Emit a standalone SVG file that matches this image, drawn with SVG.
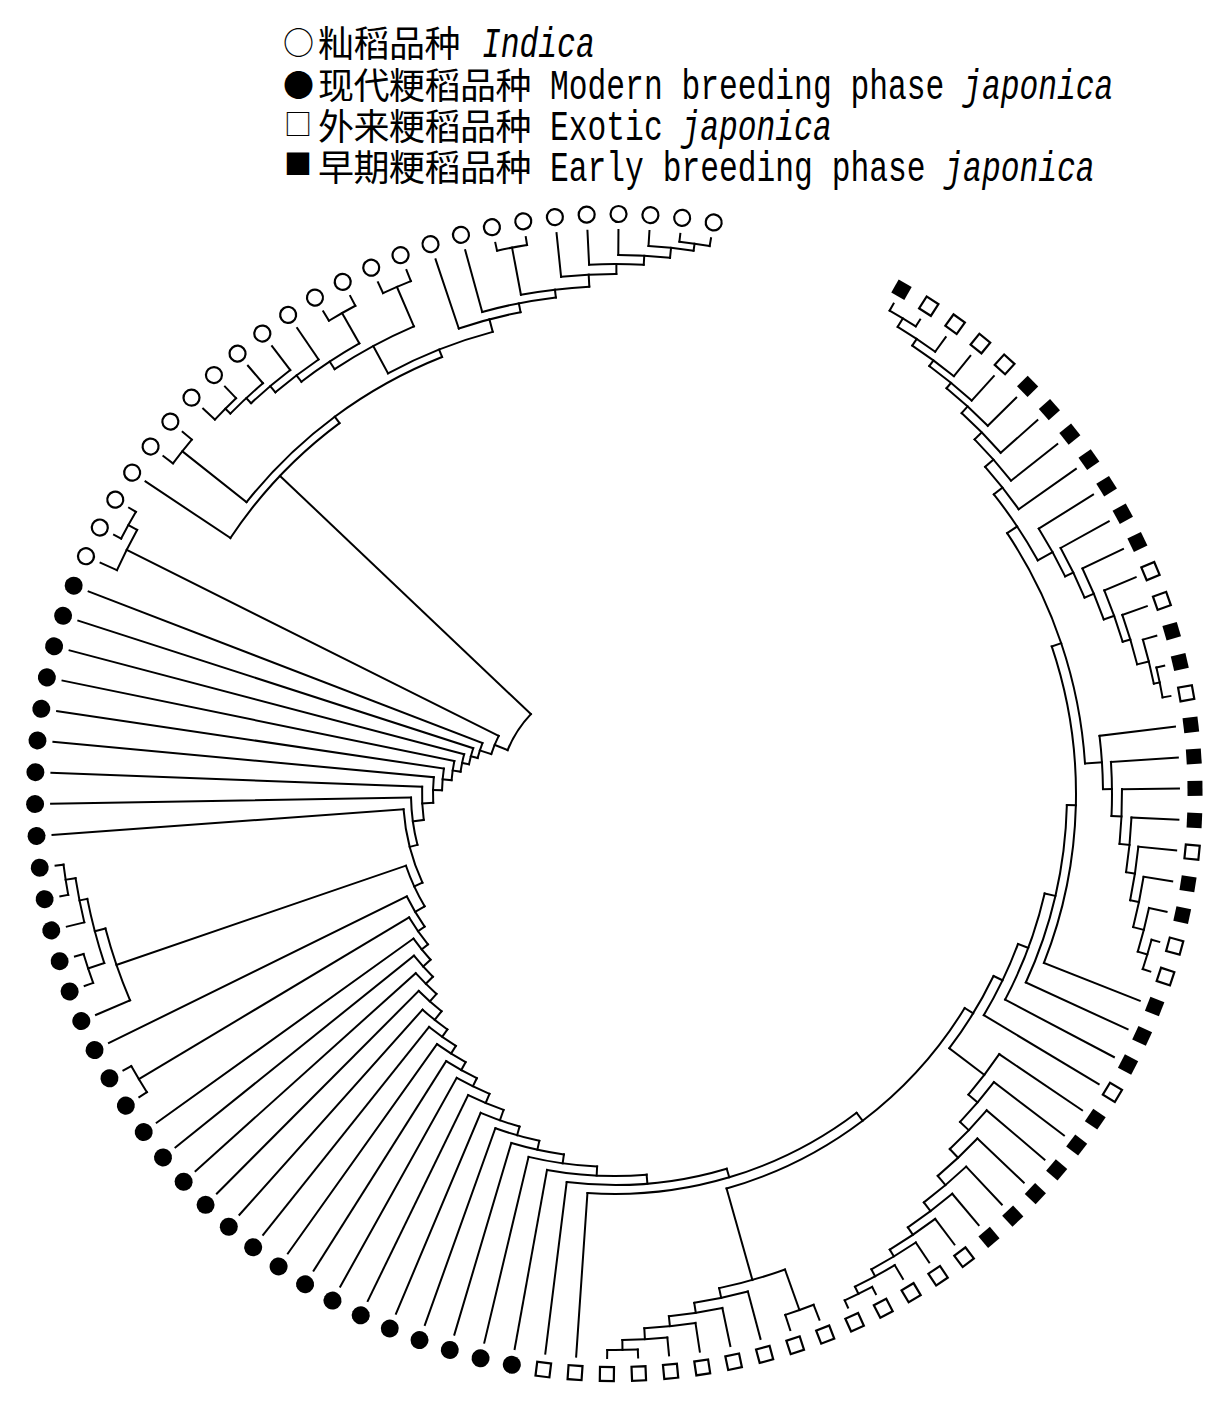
<svg xmlns="http://www.w3.org/2000/svg" width="1228" height="1414" viewBox="0 0 1228 1414">
<style>
#connectors circle,#connectors path{fill:none;stroke:#000;stroke-width:2;stroke-linecap:square}
#legend text{fill:#000}
.mk{font-family:"Noto Sans CJK SC","Noto Sans CJK JP",sans-serif}
.cjk{font-family:"Noto Sans CJK SC","Noto Sans CJK JP",sans-serif;font-size:36px;letter-spacing:-0.5px}
.lat{font-family:"Liberation Mono","DejaVu Sans Mono",monospace;font-size:43px}
.it{font-style:italic}
</style>
<defs>
<circle id="mi" r="8" fill="#fff" stroke="#000" stroke-width="2.2"/>
<circle id="mm" r="9" fill="#000"/>
<rect id="mo" x="-7" y="-7" width="14" height="14" fill="#fff" stroke="#000" stroke-width="2.2"/>
<rect id="mf" x="-7.5" y="-7.5" width="15" height="15" fill="#000"/>
</defs>
<rect width="1228" height="1414" fill="#fff"/>
<g id="legend">
<text y="57"><tspan class="mk" x="283" dy="-3.5" font-size="31">○</tspan><tspan class="cjk" x="318" dy="3.5">籼稻品种</tspan></text>
<text class="lat it" transform="translate(482 57) scale(0.728 1)">Indica</text>
<text y="99"><tspan class="mk" x="283" dy="-3" font-size="31">●</tspan><tspan class="cjk" x="318" dy="3">现代粳稻品种</tspan></text>
<text class="lat" transform="translate(550 99) scale(0.728 1)">Modern breeding phase <tspan class="it">japonica</tspan></text>
<text y="140"><tspan class="mk" x="284" dy="-5" font-size="28">□</tspan><tspan class="cjk" x="318" dy="5">外来粳稻品种</tspan></text>
<text class="lat" transform="translate(550 140) scale(0.728 1)">Exotic <tspan class="it">japonica</tspan></text>
<text y="181"><tspan class="mk" x="284" dy="-6" font-size="28">■</tspan><tspan class="cjk" x="318" dy="6">早期粳稻品种</tspan></text>
<text class="lat" transform="translate(550 181) scale(0.728 1)">Early breeding phase <tspan class="it">japonica</tspan></text>
</g>
<g id="connectors" transform="translate(615 794)">
<circle r="556" pathLength="360" stroke-dasharray="3.15 999" transform="rotate(299.6)"/>
<circle r="546" pathLength="360" stroke-dasharray="4.73 999" transform="rotate(301.18)"/>
<circle r="538" pathLength="360" stroke-dasharray="5.51 999" transform="rotate(303.54)"/>
<circle r="531" pathLength="360" stroke-dasharray="5.91 999" transform="rotate(306.29)"/>
<circle r="524" pathLength="360" stroke-dasharray="6.1 999" transform="rotate(309.25)"/>
<circle r="515" pathLength="360" stroke-dasharray="6.2 999" transform="rotate(312.3)"/>
<circle r="505" pathLength="360" stroke-dasharray="6.25 999" transform="rotate(315.4)"/>
<circle r="494" pathLength="360" stroke-dasharray="6.27 999" transform="rotate(318.53)"/>
<circle r="556" pathLength="360" stroke-dasharray="3.15 999" transform="rotate(346.85)"/>
<circle r="550" pathLength="360" stroke-dasharray="4.73 999" transform="rotate(343.7)"/>
<circle r="538" pathLength="360" stroke-dasharray="5.51 999" transform="rotate(340.55)"/>
<circle r="530" pathLength="360" stroke-dasharray="5.91 999" transform="rotate(337.4)"/>
<circle r="519" pathLength="360" stroke-dasharray="6.1 999" transform="rotate(334.25)"/>
<circle r="509" pathLength="360" stroke-dasharray="6.2 999" transform="rotate(331.1)"/>
<circle r="500" pathLength="360" stroke-dasharray="6.25 999" transform="rotate(327.95)"/>
<circle r="483" pathLength="360" stroke-dasharray="9.41 999" transform="rotate(321.66)"/>
<circle r="556" pathLength="360" stroke-dasharray="3.15 999" transform="rotate(375.2)"/>
<circle r="546" pathLength="360" stroke-dasharray="4.73 999" transform="rotate(372.05)"/>
<circle r="535" pathLength="360" stroke-dasharray="5.51 999" transform="rotate(368.9)"/>
<circle r="526" pathLength="360" stroke-dasharray="5.91 999" transform="rotate(365.75)"/>
<circle r="517" pathLength="360" stroke-dasharray="6.1 999" transform="rotate(362.6)"/>
<circle r="507" pathLength="360" stroke-dasharray="6.2 999" transform="rotate(359.45)"/>
<circle r="497" pathLength="360" stroke-dasharray="6.25 999" transform="rotate(356.3)"/>
<circle r="488" pathLength="360" stroke-dasharray="6.27 999" transform="rotate(353.15)"/>
<circle r="471" pathLength="360" stroke-dasharray="29.92 999" transform="rotate(326.37)"/>
<circle r="461" pathLength="360" stroke-dasharray="40.17 999" transform="rotate(341.33)"/>
<circle r="452" pathLength="360" stroke-dasharray="23.24 999" transform="rotate(361.41)"/>
<circle r="441" pathLength="360" stroke-dasharray="14.77 999" transform="rotate(373.03)"/>
<circle r="430" pathLength="360" stroke-dasharray="10.53 999" transform="rotate(380.42)"/>
<circle r="556" pathLength="360" stroke-dasharray="3.15 999" transform="rotate(422.45)"/>
<circle r="548" pathLength="360" stroke-dasharray="4.73 999" transform="rotate(419.3)"/>
<circle r="540" pathLength="360" stroke-dasharray="5.51 999" transform="rotate(416.15)"/>
<circle r="532" pathLength="360" stroke-dasharray="5.91 999" transform="rotate(413)"/>
<circle r="523" pathLength="360" stroke-dasharray="6.1 999" transform="rotate(409.85)"/>
<circle r="512" pathLength="360" stroke-dasharray="6.2 999" transform="rotate(406.7)"/>
<circle r="500" pathLength="360" stroke-dasharray="6.25 999" transform="rotate(403.55)"/>
<circle r="488" pathLength="360" stroke-dasharray="6.28 999" transform="rotate(400.4)"/>
<circle r="476" pathLength="360" stroke-dasharray="6.29 999" transform="rotate(397.25)"/>
<circle r="464" pathLength="360" stroke-dasharray="6.29 999" transform="rotate(394.1)"/>
<circle r="420" pathLength="360" stroke-dasharray="11.57 999" transform="rotate(385.68)"/>
<circle r="556" pathLength="360" stroke-dasharray="3.15 999" transform="rotate(447.65)"/>
<circle r="546" pathLength="360" stroke-dasharray="4.73 999" transform="rotate(444.5)"/>
<circle r="535" pathLength="360" stroke-dasharray="5.51 999" transform="rotate(441.35)"/>
<circle r="525" pathLength="360" stroke-dasharray="5.91 999" transform="rotate(438.2)"/>
<circle r="515" pathLength="360" stroke-dasharray="6.1 999" transform="rotate(435.05)"/>
<circle r="548" pathLength="360" stroke-dasharray="3.15 999" transform="rotate(428.75)"/>
<circle r="505" pathLength="360" stroke-dasharray="7.77 999" transform="rotate(430.33)"/>
<circle r="410" pathLength="360" stroke-dasharray="42.74 999" transform="rotate(391.47)"/>
<circle r="400" pathLength="360" stroke-dasharray="41.11 999" transform="rotate(412.84)"/>
<circle r="391" pathLength="360" stroke-dasharray="23.7 999" transform="rotate(433.4)"/>
<circle r="382" pathLength="360" stroke-dasharray="15 999" transform="rotate(445.25)"/>
<circle r="373" pathLength="360" stroke-dasharray="10.65 999" transform="rotate(452.75)"/>
<circle r="364" pathLength="360" stroke-dasharray="8.48 999" transform="rotate(458.07)"/>
<circle r="355" pathLength="360" stroke-dasharray="7.39 999" transform="rotate(462.31)"/>
<circle r="346" pathLength="360" stroke-dasharray="6.84 999" transform="rotate(466.01)"/>
<circle r="335" pathLength="360" stroke-dasharray="6.57 999" transform="rotate(469.43)"/>
<circle r="325" pathLength="360" stroke-dasharray="6.44 999" transform="rotate(472.71)"/>
<circle r="316" pathLength="360" stroke-dasharray="6.37 999" transform="rotate(475.93)"/>
<circle r="307" pathLength="360" stroke-dasharray="6.33 999" transform="rotate(479.12)"/>
<circle r="298" pathLength="360" stroke-dasharray="6.32 999" transform="rotate(482.28)"/>
<circle r="289" pathLength="360" stroke-dasharray="6.31 999" transform="rotate(485.44)"/>
<circle r="278" pathLength="360" stroke-dasharray="6.3 999" transform="rotate(488.6)"/>
<circle r="268" pathLength="360" stroke-dasharray="6.3 999" transform="rotate(491.75)"/>
<circle r="258" pathLength="360" stroke-dasharray="6.3 999" transform="rotate(494.9)"/>
<circle r="248" pathLength="360" stroke-dasharray="6.3 999" transform="rotate(498.05)"/>
<circle r="555" pathLength="360" stroke-dasharray="3.15 999" transform="rotate(507.5)"/>
<circle r="240" pathLength="360" stroke-dasharray="7.88 999" transform="rotate(501.2)"/>
<circle r="232" pathLength="360" stroke-dasharray="8.66 999" transform="rotate(505.14)"/>
<circle r="556" pathLength="360" stroke-dasharray="3.15 999" transform="rotate(529.55)"/>
<circle r="546" pathLength="360" stroke-dasharray="4.73 999" transform="rotate(526.4)"/>
<circle r="555" pathLength="360" stroke-dasharray="3.15 999" transform="rotate(520.1)"/>
<circle r="538" pathLength="360" stroke-dasharray="7.08 999" transform="rotate(521.68)"/>
<circle r="527" pathLength="360" stroke-dasharray="8.27 999" transform="rotate(516.95)"/>
<circle r="221" pathLength="360" stroke-dasharray="11.61 999" transform="rotate(509.47)"/>
<circle r="212" pathLength="360" stroke-dasharray="20.57 999" transform="rotate(515.28)"/>
<circle r="204" pathLength="360" stroke-dasharray="13.44 999" transform="rotate(525.56)"/>
<circle r="193" pathLength="360" stroke-dasharray="9.87 999" transform="rotate(532.28)"/>
<circle r="182" pathLength="360" stroke-dasharray="8.08 999" transform="rotate(537.22)"/>
<circle r="173" pathLength="360" stroke-dasharray="7.19 999" transform="rotate(541.26)"/>
<circle r="164" pathLength="360" stroke-dasharray="6.75 999" transform="rotate(544.85)"/>
<circle r="156" pathLength="360" stroke-dasharray="6.52 999" transform="rotate(548.23)"/>
<circle r="149" pathLength="360" stroke-dasharray="6.41 999" transform="rotate(551.49)"/>
<circle r="142" pathLength="360" stroke-dasharray="6.36 999" transform="rotate(554.69)"/>
<circle r="556" pathLength="360" stroke-dasharray="3.15 999" transform="rotate(567.35)"/>
<circle r="546" pathLength="360" stroke-dasharray="4.73 999" transform="rotate(564.2)"/>
<circle r="130" pathLength="360" stroke-dasharray="8.69 999" transform="rotate(557.87)"/>
<circle r="552" pathLength="360" stroke-dasharray="3.15 999" transform="rotate(576.8)"/>
<circle r="548" pathLength="360" stroke-dasharray="3.15 999" transform="rotate(583.1)"/>
<circle r="541" pathLength="360" stroke-dasharray="4.72 999" transform="rotate(584.68)"/>
<circle r="534" pathLength="360" stroke-dasharray="5.51 999" transform="rotate(587.04)"/>
<circle r="526" pathLength="360" stroke-dasharray="5.91 999" transform="rotate(589.79)"/>
<circle r="553" pathLength="360" stroke-dasharray="3.15 999" transform="rotate(598.85)"/>
<circle r="518" pathLength="360" stroke-dasharray="7.69 999" transform="rotate(592.74)"/>
<circle r="552" pathLength="360" stroke-dasharray="3.15 999" transform="rotate(605.15)"/>
<circle r="509" pathLength="360" stroke-dasharray="10.15 999" transform="rotate(596.58)"/>
<circle r="556" pathLength="360" stroke-dasharray="3.15 999" transform="rotate(636.65)"/>
<circle r="549" pathLength="360" stroke-dasharray="4.73 999" transform="rotate(633.5)"/>
<circle r="539" pathLength="360" stroke-dasharray="5.51 999" transform="rotate(630.35)"/>
<circle r="530" pathLength="360" stroke-dasharray="5.91 999" transform="rotate(627.2)"/>
<circle r="520" pathLength="360" stroke-dasharray="6.1 999" transform="rotate(624.05)"/>
<circle r="556" pathLength="360" stroke-dasharray="3.15 999" transform="rotate(617.75)"/>
<circle r="508" pathLength="360" stroke-dasharray="7.77 999" transform="rotate(619.33)"/>
<circle r="500" pathLength="360" stroke-dasharray="8.61 999" transform="rotate(614.6)"/>
<circle r="491" pathLength="360" stroke-dasharray="7.46 999" transform="rotate(611.45)"/>
<circle r="478" pathLength="360" stroke-dasharray="13.53 999" transform="rotate(601.65)"/>
<circle r="470" pathLength="360" stroke-dasharray="30.03 999" transform="rotate(578.38)"/>
<circle r="462" pathLength="360" stroke-dasharray="19.75 999" transform="rotate(573.65)"/>
<circle r="116" pathLength="360" stroke-dasharray="21.3 999" transform="rotate(562.22)"/>
<path d="M556 0H564" transform="rotate(299.6)"/>
<path d="M556 0H564" transform="rotate(302.75)"/>
<path d="M546 0H564" transform="rotate(305.9)"/>
<path d="M538 0H564" transform="rotate(309.05)"/>
<path d="M531 0H564" transform="rotate(312.2)"/>
<path d="M524 0H564" transform="rotate(315.35)"/>
<path d="M515 0H564" transform="rotate(318.5)"/>
<path d="M505 0H564" transform="rotate(321.65)"/>
<path d="M494 0H564" transform="rotate(324.8)"/>
<path d="M500 0H564" transform="rotate(327.95)"/>
<path d="M509 0H564" transform="rotate(331.1)"/>
<path d="M519 0H564" transform="rotate(334.25)"/>
<path d="M530 0H564" transform="rotate(337.4)"/>
<path d="M538 0H564" transform="rotate(340.55)"/>
<path d="M550 0H564" transform="rotate(343.7)"/>
<path d="M556 0H564" transform="rotate(346.85)"/>
<path d="M556 0H564" transform="rotate(350)"/>
<path d="M488 0H564" transform="rotate(353.15)"/>
<path d="M497 0H564" transform="rotate(356.3)"/>
<path d="M507 0H564" transform="rotate(359.45)"/>
<path d="M517 0H564" transform="rotate(362.6)"/>
<path d="M526 0H564" transform="rotate(365.75)"/>
<path d="M535 0H564" transform="rotate(368.9)"/>
<path d="M546 0H564" transform="rotate(372.05)"/>
<path d="M556 0H564" transform="rotate(375.2)"/>
<path d="M556 0H564" transform="rotate(378.35)"/>
<path d="M461 0H564" transform="rotate(381.5)"/>
<path d="M452 0H564" transform="rotate(384.65)"/>
<path d="M441 0H564" transform="rotate(387.8)"/>
<path d="M430 0H564" transform="rotate(390.95)"/>
<path d="M464 0H564" transform="rotate(394.1)"/>
<path d="M476 0H564" transform="rotate(397.25)"/>
<path d="M488 0H564" transform="rotate(400.4)"/>
<path d="M500 0H564" transform="rotate(403.55)"/>
<path d="M512 0H564" transform="rotate(406.7)"/>
<path d="M523 0H564" transform="rotate(409.85)"/>
<path d="M532 0H564" transform="rotate(413)"/>
<path d="M540 0H564" transform="rotate(416.15)"/>
<path d="M548 0H564" transform="rotate(419.3)"/>
<path d="M556 0H564" transform="rotate(422.45)"/>
<path d="M556 0H564" transform="rotate(425.6)"/>
<path d="M548 0H564" transform="rotate(428.75)"/>
<path d="M548 0H564" transform="rotate(431.9)"/>
<path d="M515 0H564" transform="rotate(435.05)"/>
<path d="M525 0H564" transform="rotate(438.2)"/>
<path d="M535 0H564" transform="rotate(441.35)"/>
<path d="M546 0H564" transform="rotate(444.5)"/>
<path d="M556 0H564" transform="rotate(447.65)"/>
<path d="M556 0H564" transform="rotate(450.8)"/>
<path d="M400 0H564" transform="rotate(453.95)"/>
<path d="M391 0H564" transform="rotate(457.1)"/>
<path d="M382 0H564" transform="rotate(460.25)"/>
<path d="M373 0H564" transform="rotate(463.4)"/>
<path d="M364 0H564" transform="rotate(466.55)"/>
<path d="M355 0H564" transform="rotate(469.7)"/>
<path d="M346 0H564" transform="rotate(472.85)"/>
<path d="M335 0H564" transform="rotate(476)"/>
<path d="M325 0H564" transform="rotate(479.15)"/>
<path d="M316 0H564" transform="rotate(482.3)"/>
<path d="M307 0H564" transform="rotate(485.45)"/>
<path d="M298 0H564" transform="rotate(488.6)"/>
<path d="M289 0H564" transform="rotate(491.75)"/>
<path d="M278 0H564" transform="rotate(494.9)"/>
<path d="M268 0H564" transform="rotate(498.05)"/>
<path d="M258 0H564" transform="rotate(501.2)"/>
<path d="M248 0H564" transform="rotate(504.35)"/>
<path d="M555 0H564" transform="rotate(507.5)"/>
<path d="M555 0H564" transform="rotate(510.65)"/>
<path d="M232 0H564" transform="rotate(513.8)"/>
<path d="M527 0H564" transform="rotate(516.95)"/>
<path d="M555 0H564" transform="rotate(520.1)"/>
<path d="M555 0H564" transform="rotate(523.25)"/>
<path d="M546 0H564" transform="rotate(526.4)"/>
<path d="M556 0H564" transform="rotate(529.55)"/>
<path d="M556 0H564" transform="rotate(532.7)"/>
<path d="M212 0H564" transform="rotate(535.85)"/>
<path d="M204 0H564" transform="rotate(539)"/>
<path d="M193 0H564" transform="rotate(542.15)"/>
<path d="M182 0H564" transform="rotate(545.3)"/>
<path d="M173 0H564" transform="rotate(548.45)"/>
<path d="M164 0H564" transform="rotate(551.6)"/>
<path d="M156 0H564" transform="rotate(554.75)"/>
<path d="M149 0H564" transform="rotate(557.9)"/>
<path d="M142 0H564" transform="rotate(561.05)"/>
<path d="M546 0H564" transform="rotate(564.2)"/>
<path d="M556 0H564" transform="rotate(567.35)"/>
<path d="M556 0H564" transform="rotate(570.5)"/>
<path d="M462 0H564" transform="rotate(573.65)"/>
<path d="M552 0H564" transform="rotate(576.8)"/>
<path d="M552 0H564" transform="rotate(579.95)"/>
<path d="M548 0H564" transform="rotate(583.1)"/>
<path d="M548 0H564" transform="rotate(586.25)"/>
<path d="M541 0H564" transform="rotate(589.4)"/>
<path d="M534 0H564" transform="rotate(592.55)"/>
<path d="M526 0H564" transform="rotate(595.7)"/>
<path d="M553 0H564" transform="rotate(598.85)"/>
<path d="M553 0H564" transform="rotate(602)"/>
<path d="M552 0H564" transform="rotate(605.15)"/>
<path d="M552 0H564" transform="rotate(608.3)"/>
<path d="M491 0H564" transform="rotate(611.45)"/>
<path d="M500 0H564" transform="rotate(614.6)"/>
<path d="M556 0H564" transform="rotate(617.75)"/>
<path d="M556 0H564" transform="rotate(620.9)"/>
<path d="M520 0H564" transform="rotate(624.05)"/>
<path d="M530 0H564" transform="rotate(627.2)"/>
<path d="M539 0H564" transform="rotate(630.35)"/>
<path d="M549 0H564" transform="rotate(633.5)"/>
<path d="M556 0H564" transform="rotate(636.65)"/>
<path d="M556 0H564" transform="rotate(639.8)"/>
<path d="M546 0H556" transform="rotate(301.18)"/>
<path d="M538 0H546" transform="rotate(303.54)"/>
<path d="M531 0H538" transform="rotate(306.29)"/>
<path d="M524 0H531" transform="rotate(309.25)"/>
<path d="M515 0H524" transform="rotate(312.3)"/>
<path d="M505 0H515" transform="rotate(315.4)"/>
<path d="M494 0H505" transform="rotate(318.53)"/>
<path d="M483 0H494" transform="rotate(321.66)"/>
<path d="M550 0H556" transform="rotate(348.43)"/>
<path d="M538 0H550" transform="rotate(346.06)"/>
<path d="M530 0H538" transform="rotate(343.31)"/>
<path d="M519 0H530" transform="rotate(340.35)"/>
<path d="M509 0H519" transform="rotate(337.3)"/>
<path d="M500 0H509" transform="rotate(334.2)"/>
<path d="M483 0H500" transform="rotate(331.08)"/>
<path d="M471 0H483" transform="rotate(326.37)"/>
<path d="M546 0H556" transform="rotate(376.78)"/>
<path d="M535 0H546" transform="rotate(374.41)"/>
<path d="M526 0H535" transform="rotate(371.66)"/>
<path d="M517 0H526" transform="rotate(368.7)"/>
<path d="M507 0H517" transform="rotate(365.65)"/>
<path d="M497 0H507" transform="rotate(362.55)"/>
<path d="M488 0H497" transform="rotate(359.43)"/>
<path d="M471 0H488" transform="rotate(356.29)"/>
<path d="M461 0H471" transform="rotate(341.33)"/>
<path d="M452 0H461" transform="rotate(361.41)"/>
<path d="M441 0H452" transform="rotate(373.03)"/>
<path d="M430 0H441" transform="rotate(380.42)"/>
<path d="M420 0H430" transform="rotate(385.68)"/>
<path d="M548 0H556" transform="rotate(424.03)"/>
<path d="M540 0H548" transform="rotate(421.66)"/>
<path d="M532 0H540" transform="rotate(418.91)"/>
<path d="M523 0H532" transform="rotate(415.95)"/>
<path d="M512 0H523" transform="rotate(412.9)"/>
<path d="M500 0H512" transform="rotate(409.8)"/>
<path d="M488 0H500" transform="rotate(406.68)"/>
<path d="M476 0H488" transform="rotate(403.54)"/>
<path d="M464 0H476" transform="rotate(400.39)"/>
<path d="M420 0H464" transform="rotate(397.25)"/>
<path d="M410 0H420" transform="rotate(391.47)"/>
<path d="M546 0H556" transform="rotate(449.23)"/>
<path d="M535 0H546" transform="rotate(446.86)"/>
<path d="M525 0H535" transform="rotate(444.11)"/>
<path d="M515 0H525" transform="rotate(441.15)"/>
<path d="M505 0H515" transform="rotate(438.1)"/>
<path d="M505 0H548" transform="rotate(430.33)"/>
<path d="M410 0H505" transform="rotate(434.21)"/>
<path d="M400 0H410" transform="rotate(412.84)"/>
<path d="M391 0H400" transform="rotate(433.4)"/>
<path d="M382 0H391" transform="rotate(445.25)"/>
<path d="M373 0H382" transform="rotate(452.75)"/>
<path d="M364 0H373" transform="rotate(458.07)"/>
<path d="M355 0H364" transform="rotate(462.31)"/>
<path d="M346 0H355" transform="rotate(466.01)"/>
<path d="M335 0H346" transform="rotate(469.43)"/>
<path d="M325 0H335" transform="rotate(472.71)"/>
<path d="M316 0H325" transform="rotate(475.93)"/>
<path d="M307 0H316" transform="rotate(479.12)"/>
<path d="M298 0H307" transform="rotate(482.28)"/>
<path d="M289 0H298" transform="rotate(485.44)"/>
<path d="M278 0H289" transform="rotate(488.6)"/>
<path d="M268 0H278" transform="rotate(491.75)"/>
<path d="M258 0H268" transform="rotate(494.9)"/>
<path d="M248 0H258" transform="rotate(498.05)"/>
<path d="M240 0H248" transform="rotate(501.2)"/>
<path d="M240 0H555" transform="rotate(509.08)"/>
<path d="M232 0H240" transform="rotate(505.14)"/>
<path d="M221 0H232" transform="rotate(509.47)"/>
<path d="M546 0H556" transform="rotate(531.13)"/>
<path d="M538 0H546" transform="rotate(528.76)"/>
<path d="M538 0H555" transform="rotate(521.68)"/>
<path d="M527 0H538" transform="rotate(525.22)"/>
<path d="M221 0H527" transform="rotate(521.08)"/>
<path d="M212 0H221" transform="rotate(515.28)"/>
<path d="M204 0H212" transform="rotate(525.56)"/>
<path d="M193 0H204" transform="rotate(532.28)"/>
<path d="M182 0H193" transform="rotate(537.22)"/>
<path d="M173 0H182" transform="rotate(541.26)"/>
<path d="M164 0H173" transform="rotate(544.85)"/>
<path d="M156 0H164" transform="rotate(548.23)"/>
<path d="M149 0H156" transform="rotate(551.49)"/>
<path d="M142 0H149" transform="rotate(554.69)"/>
<path d="M130 0H142" transform="rotate(557.87)"/>
<path d="M546 0H556" transform="rotate(568.93)"/>
<path d="M130 0H546" transform="rotate(566.56)"/>
<path d="M116 0H130" transform="rotate(562.22)"/>
<path d="M470 0H552" transform="rotate(578.38)"/>
<path d="M541 0H548" transform="rotate(584.68)"/>
<path d="M534 0H541" transform="rotate(587.04)"/>
<path d="M526 0H534" transform="rotate(589.79)"/>
<path d="M518 0H526" transform="rotate(592.74)"/>
<path d="M518 0H553" transform="rotate(600.43)"/>
<path d="M509 0H518" transform="rotate(596.58)"/>
<path d="M509 0H552" transform="rotate(606.73)"/>
<path d="M478 0H509" transform="rotate(601.65)"/>
<path d="M549 0H556" transform="rotate(638.23)"/>
<path d="M539 0H549" transform="rotate(635.86)"/>
<path d="M530 0H539" transform="rotate(633.11)"/>
<path d="M520 0H530" transform="rotate(630.15)"/>
<path d="M508 0H520" transform="rotate(627.1)"/>
<path d="M508 0H556" transform="rotate(619.33)"/>
<path d="M500 0H508" transform="rotate(623.21)"/>
<path d="M491 0H500" transform="rotate(618.91)"/>
<path d="M478 0H491" transform="rotate(615.18)"/>
<path d="M470 0H478" transform="rotate(608.41)"/>
<path d="M462 0H470" transform="rotate(593.4)"/>
<path d="M116 0H462" transform="rotate(583.52)"/>
</g>
<g id="leaves" transform="translate(615 794)">
<g id="leaf0"><use href="#mf" transform="rotate(299.6)translate(580)"/></g>
<g id="leaf1"><use href="#mo" transform="rotate(302.75)translate(580)"/></g>
<g id="leaf2"><use href="#mo" transform="rotate(305.9)translate(580)"/></g>
<g id="leaf3"><use href="#mo" transform="rotate(309.05)translate(580)"/></g>
<g id="leaf4"><use href="#mo" transform="rotate(312.2)translate(580)"/></g>
<g id="leaf5"><use href="#mf" transform="rotate(315.35)translate(580)"/></g>
<g id="leaf6"><use href="#mf" transform="rotate(318.5)translate(580)"/></g>
<g id="leaf7"><use href="#mf" transform="rotate(321.65)translate(580)"/></g>
<g id="leaf8"><use href="#mf" transform="rotate(324.8)translate(580)"/></g>
<g id="leaf9"><use href="#mf" transform="rotate(327.95)translate(580)"/></g>
<g id="leaf10"><use href="#mf" transform="rotate(331.1)translate(580)"/></g>
<g id="leaf11"><use href="#mf" transform="rotate(334.25)translate(580)"/></g>
<g id="leaf12"><use href="#mo" transform="rotate(337.4)translate(580)"/></g>
<g id="leaf13"><use href="#mo" transform="rotate(340.55)translate(580)"/></g>
<g id="leaf14"><use href="#mf" transform="rotate(343.7)translate(580)"/></g>
<g id="leaf15"><use href="#mf" transform="rotate(346.85)translate(580)"/></g>
<g id="leaf16"><use href="#mo" transform="rotate(350)translate(580)"/></g>
<g id="leaf17"><use href="#mf" transform="rotate(353.15)translate(580)"/></g>
<g id="leaf18"><use href="#mf" transform="rotate(356.3)translate(580)"/></g>
<g id="leaf19"><use href="#mf" transform="rotate(359.45)translate(580)"/></g>
<g id="leaf20"><use href="#mf" transform="rotate(362.6)translate(580)"/></g>
<g id="leaf21"><use href="#mo" transform="rotate(365.75)translate(580)"/></g>
<g id="leaf22"><use href="#mf" transform="rotate(368.9)translate(580)"/></g>
<g id="leaf23"><use href="#mf" transform="rotate(372.05)translate(580)"/></g>
<g id="leaf24"><use href="#mo" transform="rotate(375.2)translate(580)"/></g>
<g id="leaf25"><use href="#mo" transform="rotate(378.35)translate(580)"/></g>
<g id="leaf26"><use href="#mf" transform="rotate(381.5)translate(580)"/></g>
<g id="leaf27"><use href="#mf" transform="rotate(384.65)translate(580)"/></g>
<g id="leaf28"><use href="#mf" transform="rotate(387.8)translate(580)"/></g>
<g id="leaf29"><use href="#mo" transform="rotate(390.95)translate(580)"/></g>
<g id="leaf30"><use href="#mf" transform="rotate(394.1)translate(580)"/></g>
<g id="leaf31"><use href="#mf" transform="rotate(397.25)translate(580)"/></g>
<g id="leaf32"><use href="#mf" transform="rotate(400.4)translate(580)"/></g>
<g id="leaf33"><use href="#mf" transform="rotate(403.55)translate(580)"/></g>
<g id="leaf34"><use href="#mf" transform="rotate(406.7)translate(580)"/></g>
<g id="leaf35"><use href="#mf" transform="rotate(409.85)translate(580)"/></g>
<g id="leaf36"><use href="#mo" transform="rotate(413)translate(580)"/></g>
<g id="leaf37"><use href="#mo" transform="rotate(416.15)translate(580)"/></g>
<g id="leaf38"><use href="#mo" transform="rotate(419.3)translate(580)"/></g>
<g id="leaf39"><use href="#mo" transform="rotate(422.45)translate(580)"/></g>
<g id="leaf40"><use href="#mo" transform="rotate(425.6)translate(580)"/></g>
<g id="leaf41"><use href="#mo" transform="rotate(428.75)translate(580)"/></g>
<g id="leaf42"><use href="#mo" transform="rotate(431.9)translate(580)"/></g>
<g id="leaf43"><use href="#mo" transform="rotate(435.05)translate(580)"/></g>
<g id="leaf44"><use href="#mo" transform="rotate(438.2)translate(580)"/></g>
<g id="leaf45"><use href="#mo" transform="rotate(441.35)translate(580)"/></g>
<g id="leaf46"><use href="#mo" transform="rotate(444.5)translate(580)"/></g>
<g id="leaf47"><use href="#mo" transform="rotate(447.65)translate(580)"/></g>
<g id="leaf48"><use href="#mo" transform="rotate(450.8)translate(580)"/></g>
<g id="leaf49"><use href="#mo" transform="rotate(453.95)translate(580)"/></g>
<g id="leaf50"><use href="#mo" transform="rotate(457.1)translate(580)"/></g>
<g id="leaf51"><use href="#mm" transform="rotate(460.25)translate(580)"/></g>
<g id="leaf52"><use href="#mm" transform="rotate(463.4)translate(580)"/></g>
<g id="leaf53"><use href="#mm" transform="rotate(466.55)translate(580)"/></g>
<g id="leaf54"><use href="#mm" transform="rotate(469.7)translate(580)"/></g>
<g id="leaf55"><use href="#mm" transform="rotate(472.85)translate(580)"/></g>
<g id="leaf56"><use href="#mm" transform="rotate(476)translate(580)"/></g>
<g id="leaf57"><use href="#mm" transform="rotate(479.15)translate(580)"/></g>
<g id="leaf58"><use href="#mm" transform="rotate(482.3)translate(580)"/></g>
<g id="leaf59"><use href="#mm" transform="rotate(485.45)translate(580)"/></g>
<g id="leaf60"><use href="#mm" transform="rotate(488.6)translate(580)"/></g>
<g id="leaf61"><use href="#mm" transform="rotate(491.75)translate(580)"/></g>
<g id="leaf62"><use href="#mm" transform="rotate(494.9)translate(580)"/></g>
<g id="leaf63"><use href="#mm" transform="rotate(498.05)translate(580)"/></g>
<g id="leaf64"><use href="#mm" transform="rotate(501.2)translate(580)"/></g>
<g id="leaf65"><use href="#mm" transform="rotate(504.35)translate(580)"/></g>
<g id="leaf66"><use href="#mm" transform="rotate(507.5)translate(580)"/></g>
<g id="leaf67"><use href="#mm" transform="rotate(510.65)translate(580)"/></g>
<g id="leaf68"><use href="#mm" transform="rotate(513.8)translate(580)"/></g>
<g id="leaf69"><use href="#mm" transform="rotate(516.95)translate(580)"/></g>
<g id="leaf70"><use href="#mm" transform="rotate(520.1)translate(580)"/></g>
<g id="leaf71"><use href="#mm" transform="rotate(523.25)translate(580)"/></g>
<g id="leaf72"><use href="#mm" transform="rotate(526.4)translate(580)"/></g>
<g id="leaf73"><use href="#mm" transform="rotate(529.55)translate(580)"/></g>
<g id="leaf74"><use href="#mm" transform="rotate(532.7)translate(580)"/></g>
<g id="leaf75"><use href="#mm" transform="rotate(535.85)translate(580)"/></g>
<g id="leaf76"><use href="#mm" transform="rotate(539)translate(580)"/></g>
<g id="leaf77"><use href="#mm" transform="rotate(542.15)translate(580)"/></g>
<g id="leaf78"><use href="#mm" transform="rotate(545.3)translate(580)"/></g>
<g id="leaf79"><use href="#mm" transform="rotate(548.45)translate(580)"/></g>
<g id="leaf80"><use href="#mm" transform="rotate(551.6)translate(580)"/></g>
<g id="leaf81"><use href="#mm" transform="rotate(554.75)translate(580)"/></g>
<g id="leaf82"><use href="#mm" transform="rotate(557.9)translate(580)"/></g>
<g id="leaf83"><use href="#mm" transform="rotate(561.05)translate(580)"/></g>
<g id="leaf84"><use href="#mi" transform="rotate(564.2)translate(580)"/></g>
<g id="leaf85"><use href="#mi" transform="rotate(567.35)translate(580)"/></g>
<g id="leaf86"><use href="#mi" transform="rotate(570.5)translate(580)"/></g>
<g id="leaf87"><use href="#mi" transform="rotate(573.65)translate(580)"/></g>
<g id="leaf88"><use href="#mi" transform="rotate(576.8)translate(580)"/></g>
<g id="leaf89"><use href="#mi" transform="rotate(579.95)translate(580)"/></g>
<g id="leaf90"><use href="#mi" transform="rotate(583.1)translate(580)"/></g>
<g id="leaf91"><use href="#mi" transform="rotate(586.25)translate(580)"/></g>
<g id="leaf92"><use href="#mi" transform="rotate(589.4)translate(580)"/></g>
<g id="leaf93"><use href="#mi" transform="rotate(592.55)translate(580)"/></g>
<g id="leaf94"><use href="#mi" transform="rotate(595.7)translate(580)"/></g>
<g id="leaf95"><use href="#mi" transform="rotate(598.85)translate(580)"/></g>
<g id="leaf96"><use href="#mi" transform="rotate(602)translate(580)"/></g>
<g id="leaf97"><use href="#mi" transform="rotate(605.15)translate(580)"/></g>
<g id="leaf98"><use href="#mi" transform="rotate(608.3)translate(580)"/></g>
<g id="leaf99"><use href="#mi" transform="rotate(611.45)translate(580)"/></g>
<g id="leaf100"><use href="#mi" transform="rotate(614.6)translate(580)"/></g>
<g id="leaf101"><use href="#mi" transform="rotate(617.75)translate(580)"/></g>
<g id="leaf102"><use href="#mi" transform="rotate(620.9)translate(580)"/></g>
<g id="leaf103"><use href="#mi" transform="rotate(624.05)translate(580)"/></g>
<g id="leaf104"><use href="#mi" transform="rotate(627.2)translate(580)"/></g>
<g id="leaf105"><use href="#mi" transform="rotate(630.35)translate(580)"/></g>
<g id="leaf106"><use href="#mi" transform="rotate(633.5)translate(580)"/></g>
<g id="leaf107"><use href="#mi" transform="rotate(636.65)translate(580)"/></g>
<g id="leaf108"><use href="#mi" transform="rotate(639.8)translate(580)"/></g>
</g>
</svg>
